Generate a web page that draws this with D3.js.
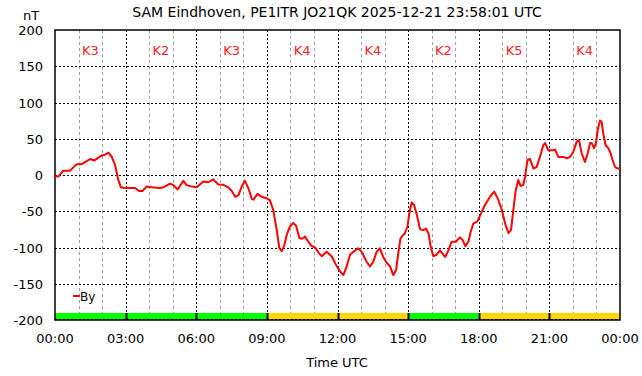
<!DOCTYPE html>
<html lang="en">
<head>
    <meta charset="UTF-8">
    <title>SAM Eindhoven By</title>
    <script src="https://d3js.org/d3.v7.min.js"></script>
    <style>
        body { margin: 0; padding: 0; background: #fff; }
        svg { display: block; font-family: "DejaVu Sans", sans-serif; }
    </style>
</head>
<body>
<svg id="chart" width="642" height="376"></svg>

<script>
    // Hours since 00:00 UTC and By values (nT)
    const hours = [0, 0.15, 0.35, 0.64, 0.92, 1.13, 1.49, 1.67, 1.98, 2.12, 2.27, 2.41, 2.55, 2.69, 2.80, 2.97,
        3.40, 3.57, 3.71, 3.89, 4.11, 4.46, 4.60, 4.89, 5.03, 5.21, 5.45, 5.59, 5.81, 6.02, 6.30, 6.51, 6.72,
        6.94, 7.15, 7.36, 7.51, 7.65, 7.79, 7.93, 8.07, 8.21, 8.36, 8.43, 8.60, 8.78, 8.99, 9.13, 9.27, 9.42,
        9.53, 9.63, 9.73, 9.84, 9.98, 10.12, 10.24, 10.38, 10.48, 10.62, 10.76, 10.90, 11.05, 11.19, 11.33,
        11.54, 11.75, 11.94, 12.11, 12.25, 12.39, 12.53, 12.67, 12.88, 13.03, 13.24, 13.38, 13.52, 13.66,
        13.80, 13.94, 14.09, 14.23, 14.37, 14.49, 14.58, 14.68, 14.87, 14.97, 15.05, 15.15, 15.25, 15.37,
        15.51, 15.65, 15.76, 15.86, 15.96, 16.07, 16.21, 16.35, 16.57, 16.71, 16.85, 17.03, 17.20, 17.32,
        17.43, 17.56, 17.66, 17.77, 17.94, 18.07, 18.27, 18.48, 18.66, 18.83, 18.98, 19.12, 19.26, 19.37,
        19.47, 19.57, 19.68, 19.78, 19.89, 19.97, 20.07, 20.18, 20.32, 20.46, 20.60, 20.74, 20.82, 20.96,
        21.13, 21.24, 21.38, 21.60, 21.74, 21.88, 22.02, 22.16, 22.26, 22.37, 22.51, 22.63, 22.73, 22.80,
        22.90, 22.98, 23.05, 23.15, 23.22, 23.29, 23.39, 23.50, 23.58, 23.68, 23.79, 23.90, 24.0];
    const by = [-2, -2, 6, 6, 15, 15, 22, 20, 27, 28, 31, 25, 14, -7, -17, -18,
        -18, -22, -22, -16, -17, -18, -17, -12, -14, -20, -8, -14, -16, -17, -9, -10, -6,
        -13, -13.5, -17, -22, -30, -28, -16, -8, -18, -33, -34, -26, -30, -32, -35, -48, -76,
        -101, -105, -98, -83, -71, -66, -70, -87, -88, -85, -92, -98, -100, -107, -112,
        -106, -112, -124, -133, -138, -126, -110, -106, -101, -106, -120, -126, -120, -106,
        -101, -113, -121, -126, -138, -131, -108, -87, -80, -71, -53, -38, -41, -55,
        -75, -76, -74, -80, -99, -112, -110, -104, -113, -104, -92, -92, -86, -90,
        -98, -92, -78, -67, -64, -55, -41, -30, -23, -34, -48, -67, -80, -76,
        -48, -21, -7, -15, -14, -2, 21, 22, 9, 11, 25, 41, 44, 34,
        34, 35, 25, 25, 23, 25, 32, 46, 48, 30, 18, 30, 44, 44,
        37, 44, 62, 75, 73, 57, 41, 37, 32, 21, 11, 9, 9];

    // K index per 3-hour block
    const kLabels = ["K3", "K2", "K3", "K4", "K4", "K2", "K5", "K4"];
    const kColors = ["#00ff00", "#00ff00", "#00ff00", "#ffd700", "#ffd700", "#00ff00", "#ffd700", "#ffd700"];
    const yTicks = [-200, -150, -100, -50, 0, 50, 100, 150, 200];
    const xTicks = [0, 3, 6, 9, 12, 15, 18, 21, 24];
    const xTickLabels = ["00:00", "03:00", "06:00", "09:00", "12:00", "15:00", "18:00", "21:00", "00:00"];

    const svg = d3.select("#chart");
    const plotL = 55, plotR = 620, plotT = 30, plotB = 320;

    const x = d3.scaleLinear().domain([0, 24]).range([plotL, plotR]);
    const y = d3.scaleLinear().domain([-200, 200]).range([plotB, plotT]);

    // title
    svg.append("text").attr("x", 337).attr("y", 17).attr("text-anchor", "middle")
        .attr("font-size", 14).text("SAM Eindhoven, PE1ITR JO21QK 2025-12-21 23:58:01 UTC");
    svg.append("text").attr("x", 31).attr("y", 20).attr("text-anchor", "middle")
        .attr("font-size", 13).text("nT");

    // minor hour grid
    const minor = d3.range(1, 24).filter(h => h % 3 !== 0);
    svg.selectAll(".minor").data(minor).enter().append("line")
        .attr("x1", d => Math.round(x(d)) + 0.5).attr("x2", d => Math.round(x(d)) + 0.5)
        .attr("y1", plotT).attr("y2", plotB)
        .attr("stroke", "#a0a0a0").attr("stroke-dasharray", "3,3");

    // major grid
    svg.selectAll(".vmajor").data(xTicks.slice(1, -1)).enter().append("line")
        .attr("x1", d => Math.round(x(d)) + 0.5).attr("x2", d => Math.round(x(d)) + 0.5)
        .attr("y1", plotT).attr("y2", plotB)
        .attr("stroke", "#000").attr("stroke-dasharray", "2,2");
    svg.selectAll(".hmajor").data(yTicks.slice(1, -1)).enter().append("line")
        .attr("x1", plotL).attr("x2", plotR)
        .attr("y1", d => Math.round(y(d)) + 0.5).attr("y2", d => Math.round(y(d)) + 0.5)
        .attr("stroke", "#000").attr("stroke-dasharray", "2,2");

    // K index bars
    const blocks = d3.range(8);
    svg.selectAll(".kbar").data(blocks).enter().append("rect")
        .attr("x", d => x(d * 3)).attr("width", d => x(d * 3 + 3) - x(d * 3))
        .attr("y", plotB - 7).attr("height", 7)
        .attr("fill", d => kColors[d]);
    svg.selectAll(".ksep").data(blocks.slice(1)).enter().append("line")
        .attr("x1", d => Math.round(x(d * 3)) + 0.5).attr("x2", d => Math.round(x(d * 3)) + 0.5)
        .attr("y1", plotB - 7).attr("y2", plotB)
        .attr("stroke", "#000").attr("stroke-width", 2);
    svg.append("line").attr("x1", plotL).attr("x2", plotR).attr("y1", plotB - 0.5).attr("y2", plotB - 0.5)
        .attr("stroke", "#000").attr("stroke-dasharray", "2,2");

    svg.selectAll(".klabel").data(blocks).enter().append("text")
        .attr("x", d => x(d * 3 + 1.5)).attr("y", 55).attr("text-anchor", "middle")
        .attr("font-size", 13).attr("fill", "#ff2020").text(d => kLabels[d]);

    // frame
    svg.append("rect").attr("x", plotL).attr("y", plotT).attr("width", plotR - plotL).attr("height", plotB - plotT)
        .attr("fill", "none").attr("stroke", "#000").attr("stroke-width", 1.5);

    // tick labels
    svg.selectAll(".ylab").data(yTicks).enter().append("text")
        .attr("x", 43).attr("y", d => y(d) + 5).attr("text-anchor", "end")
        .attr("font-size", 13).text(d => d);
    svg.selectAll(".xlab").data(xTicks).enter().append("text")
        .attr("x", d => x(d)).attr("y", 343).attr("text-anchor", "middle")
        .attr("font-size", 13).text((d, i) => xTickLabels[i]);
    svg.append("text").attr("x", 337).attr("y", 367).attr("text-anchor", "middle")
        .attr("font-size", 13).text("Time UTC");

    // By line
    const line = d3.line().x(d => x(d[0])).y(d => y(d[1]));
    svg.append("path").datum(d3.zip(hours, by))
        .attr("d", line).attr("fill", "none")
        .attr("stroke", "#ff0000").attr("stroke-width", 2).attr("stroke-linejoin", "round");

    // legend
    svg.append("line").attr("x1", 73).attr("x2", 80).attr("y1", 296).attr("y2", 296)
        .attr("stroke", "#ff0000").attr("stroke-width", 2);
    svg.append("text").attr("x", 80).attr("y", 301).attr("font-size", 12).text("By");
</script>
</body>
</html>
